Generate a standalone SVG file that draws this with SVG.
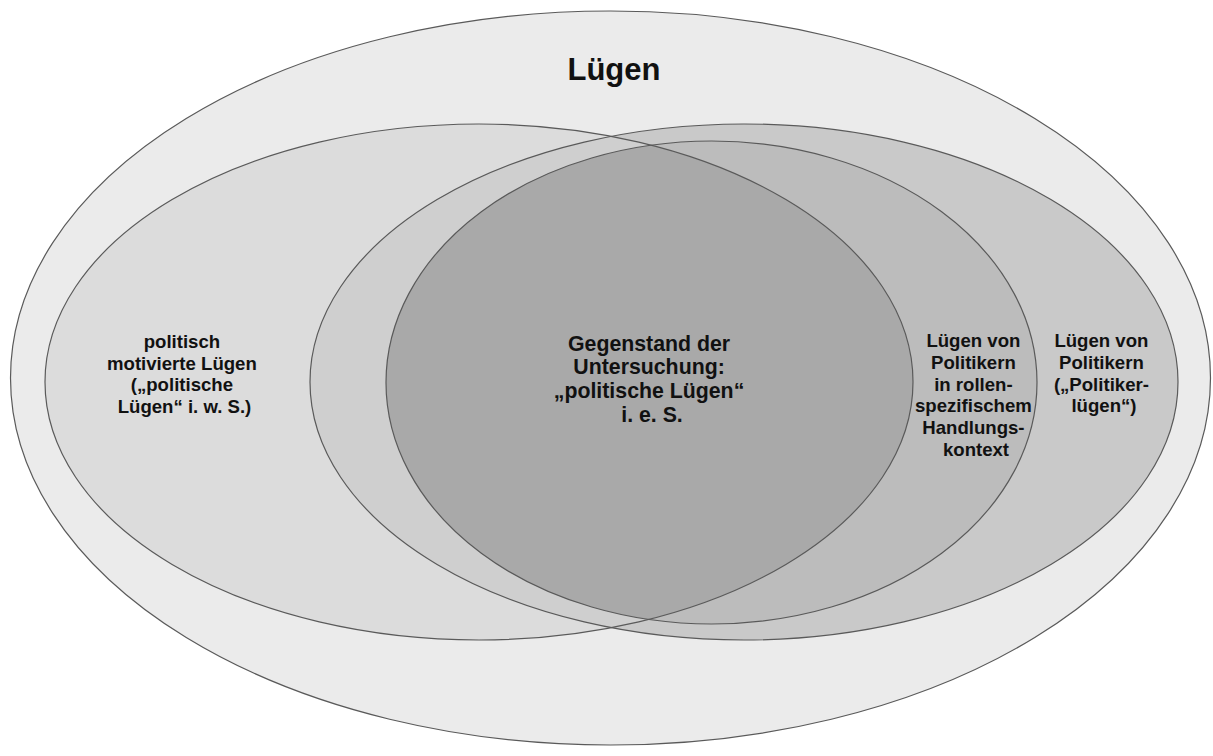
<svg xmlns="http://www.w3.org/2000/svg" width="1213" height="756" viewBox="0 0 1213 756">
  <style>
    .edge { fill: none; stroke: #5a5a5a; stroke-width: 1.2; }
    .t { font-family: "Liberation Sans", Arial, sans-serif; font-weight: bold; fill: #111; text-anchor: middle; }
    .small { font-size: 18.6px; }
    .mid { font-size: 21.3px; }
    .title { font-size: 31px; }
  </style>
  <defs>
    <clipPath id="clipLeft">
      <ellipse cx="479" cy="382" rx="434" ry="258"/>
    </clipPath>
  </defs>
  <rect width="1213" height="756" fill="#ffffff"/>

  <g id="node-luegen">
    <ellipse cx="610.5" cy="378" rx="600" ry="367" fill="#ebebeb"/>
    <ellipse class="edge" cx="610.5" cy="378" rx="600" ry="367"/>
    <text class="t title" x="614" y="80">Lügen</text>
  </g>

  <g id="node-politisch-motiviert">
    <ellipse cx="479" cy="382" rx="434" ry="258" fill="#dcdcdc"/>
  </g>

  <g id="node-politikerluegen">
    <ellipse cx="744" cy="382" rx="434" ry="258" fill="#c9c9c9"/>
    <ellipse cx="744" cy="382" rx="434" ry="258" fill="#cfcfcf" clip-path="url(#clipLeft)"/>
  </g>

  <g id="node-rollenspezifisch">
    <ellipse cx="711.5" cy="382.5" rx="325.5" ry="241.5" fill="#bcbcbc"/>
  </g>

  <g id="node-gegenstand">
    <ellipse cx="711.5" cy="382.5" rx="325.5" ry="241.5" fill="#a9a9a9" clip-path="url(#clipLeft)"/>
  </g>

  <g id="outlines">
    <ellipse class="edge" cx="479" cy="382" rx="434" ry="258"/>
    <ellipse class="edge" cx="744" cy="382" rx="434" ry="258"/>
    <ellipse class="edge" cx="711.5" cy="382.5" rx="325.5" ry="241.5"/>
  </g>

  <g id="labels">
    <text class="t small" x="184.5">
      <tspan x="184.5" y="348">politisch</tspan>
      <tspan x="184.5" y="369.5">motivierte Lügen</tspan>
      <tspan x="184.5" y="391">(„politische</tspan>
      <tspan x="184.5" y="412.5">Lügen“ i. w. S.)</tspan>
    </text>
    <text class="t mid" x="652">
      <tspan x="652" y="350.7">Gegenstand der</tspan>
      <tspan x="652" y="374.4">Untersuchung:</tspan>
      <tspan x="652" y="398">„politische Lügen“</tspan>
      <tspan x="652" y="421.7">i. e. S.</tspan>
    </text>
    <text class="t small" x="976">
      <tspan x="976" y="347.3">Lügen von</tspan>
      <tspan x="976" y="369">Politikern</tspan>
      <tspan x="976" y="390.7">in rollen-</tspan>
      <tspan x="976" y="412.3">spezifischem</tspan>
      <tspan x="976" y="434">Handlungs-</tspan>
      <tspan x="976" y="455.6">kontext</tspan>
    </text>
    <text class="t small" x="1104">
      <tspan x="1104" y="347.3">Lügen von</tspan>
      <tspan x="1104" y="369">Politikern</tspan>
      <tspan x="1104" y="390.7">(„Politiker-</tspan>
      <tspan x="1104" y="412.3">lügen“)</tspan>
    </text>
  </g>
</svg>
